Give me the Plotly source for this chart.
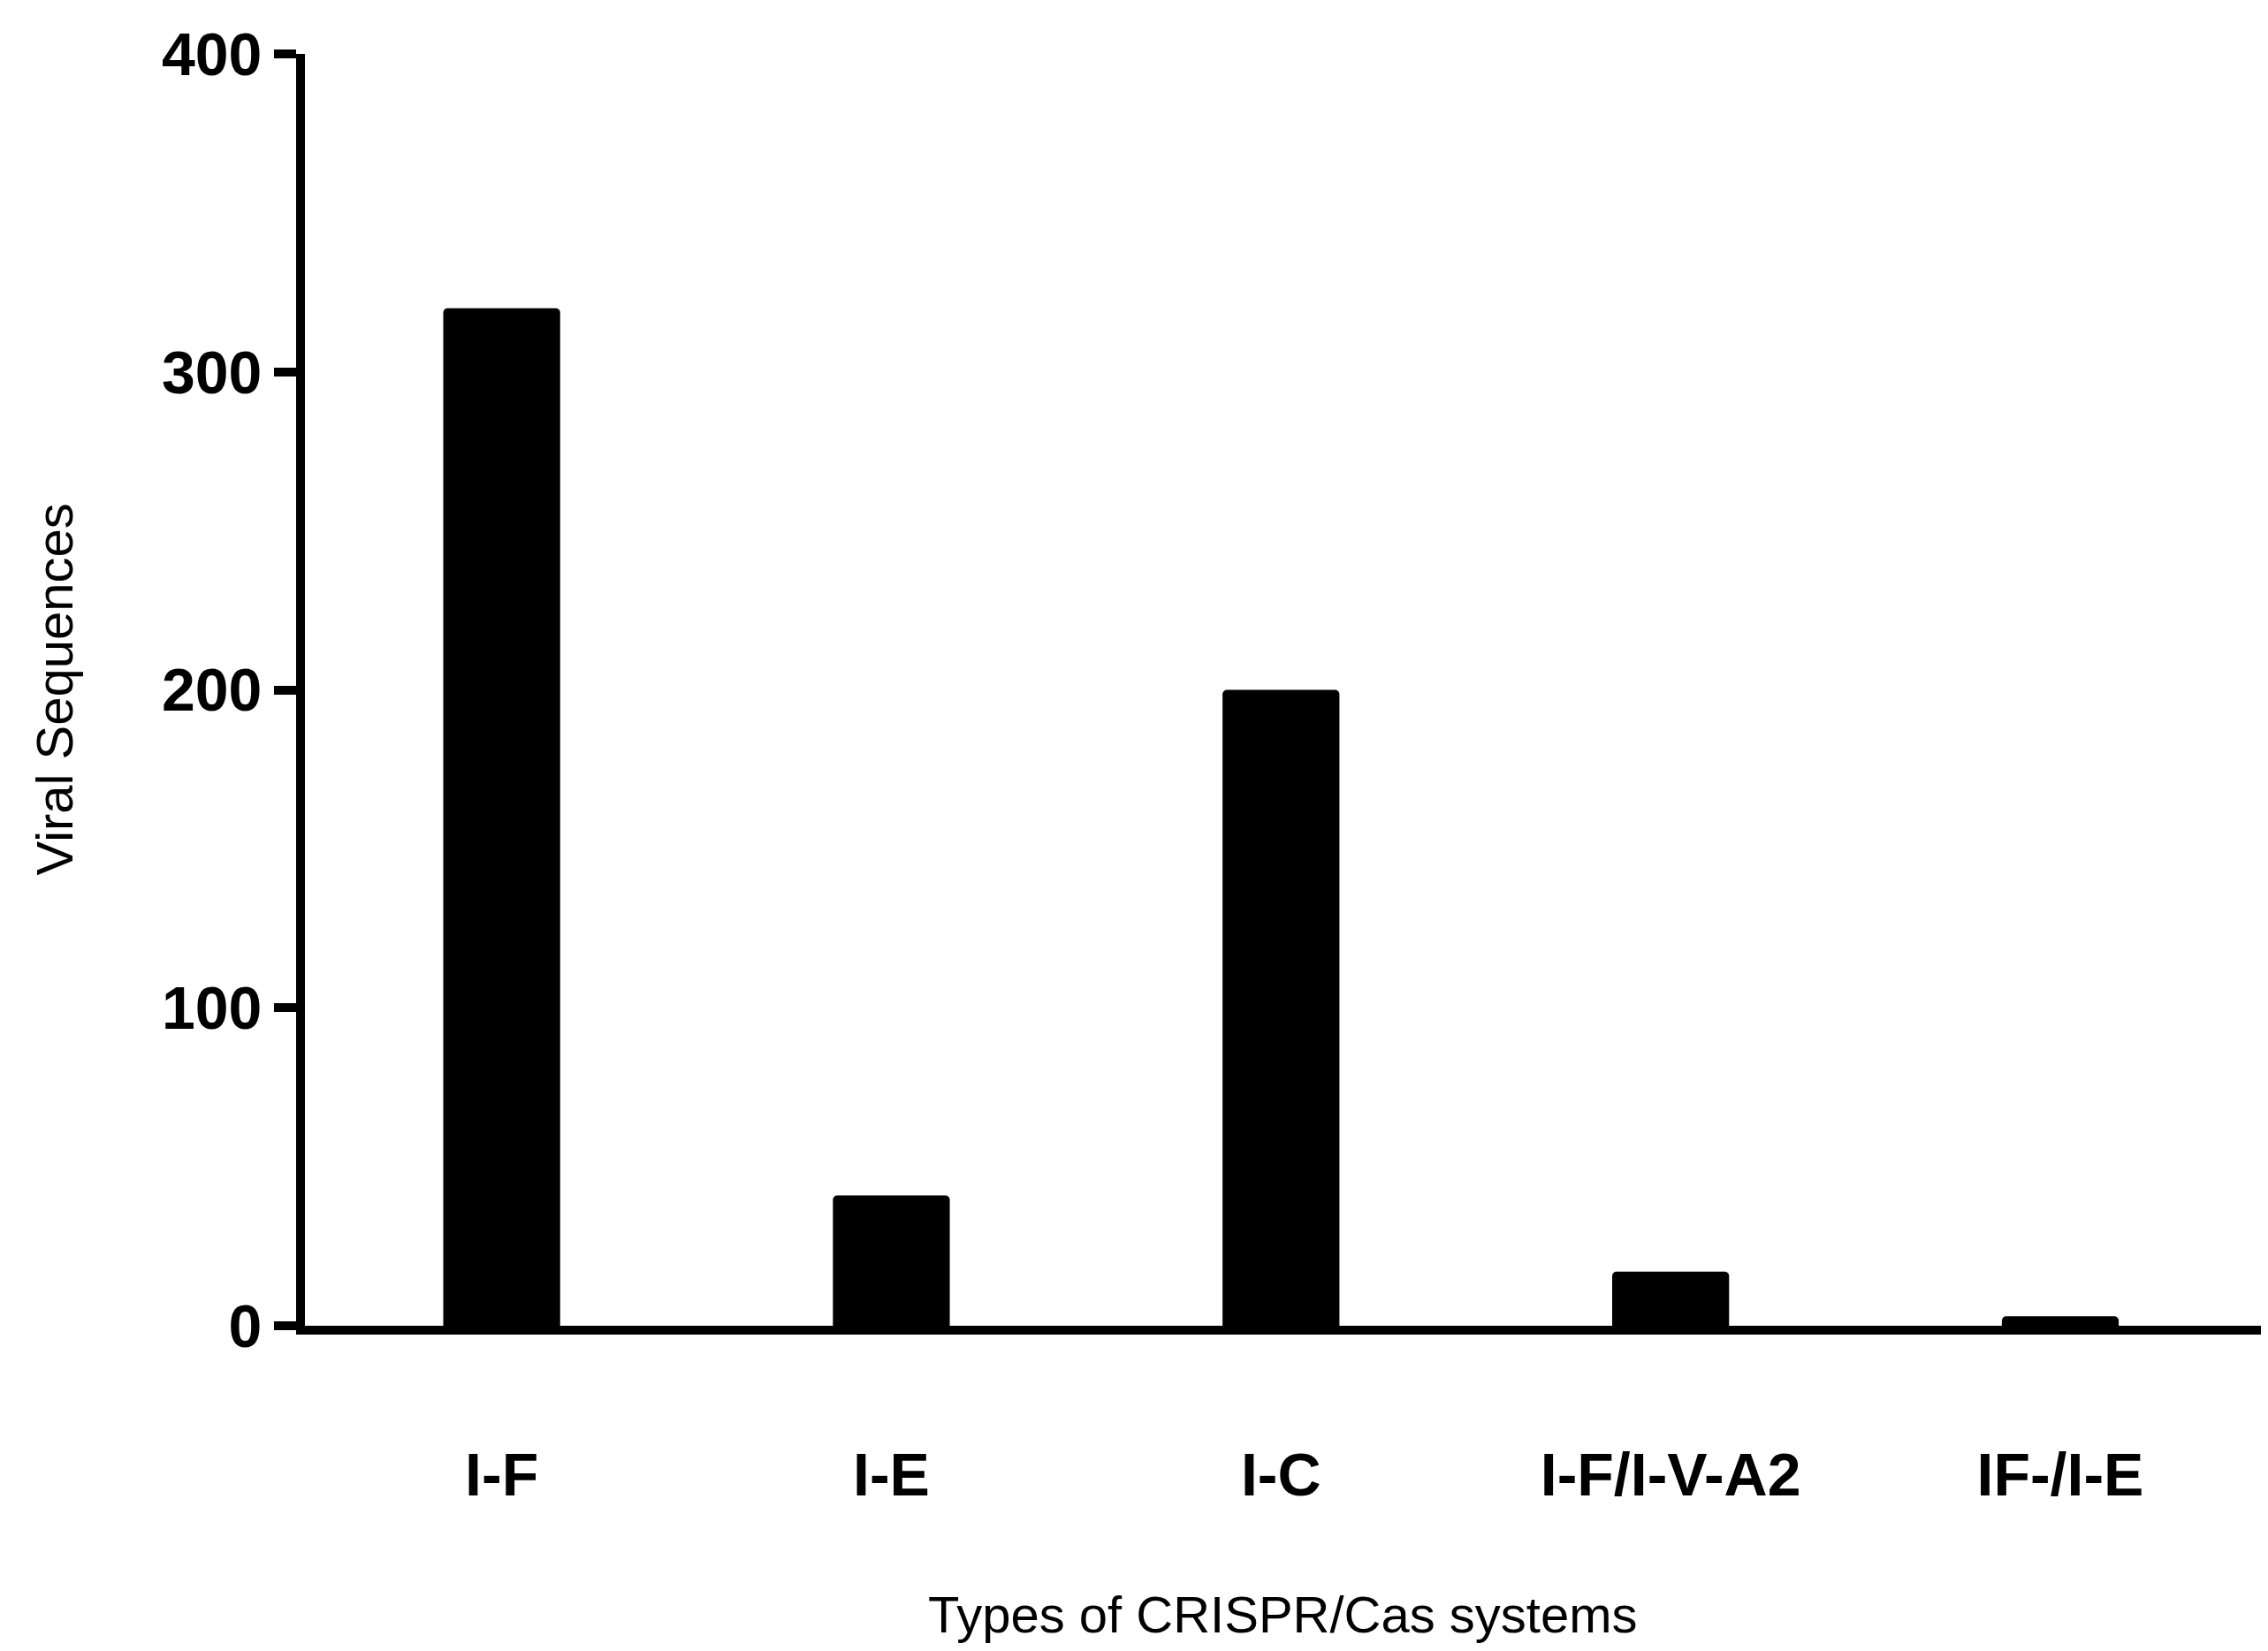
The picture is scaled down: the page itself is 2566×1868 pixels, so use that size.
import plotly.graph_objects as go

# data
systems = ["I-F", "I-E", "I-C", "I-F/I-V-A2", "IF-/I-E"]
sequences = [320, 41, 200, 17, 3]
y_ticks = [0, 100, 200, 300, 400]

fig = go.Figure(go.Bar(x=list(range(len(systems))), y=sequences, width=0.3,
                       marker=dict(color="black", line=dict(width=0), cornerradius=5)))

fig.update_layout(
    width=2566, height=1868, plot_bgcolor="white", paper_bgcolor="white",
    margin=dict(l=337, r=16, t=53, b=376), showlegend=False,
    font=dict(family="Liberation Sans, Arial", color="black"),
)
fig.update_xaxes(range=[-0.505, 4.515], tickvals=list(range(len(systems))), ticktext=systems,
                 showline=True, linecolor="black", linewidth=10, ticks="",
                 tickfont=dict(size=68, family="Liberation Sans, Arial Black", weight="bold"),
                 ticklabelstandoff=100, showgrid=False, zeroline=False)
fig.update_yaxes(range=[0, 400], tickvals=y_ticks, showline=True, linecolor="black", linewidth=10,
                 ticks="outside", ticklen=25, tickwidth=10, tickcolor="black",
                 tickfont=dict(size=68, weight="bold"), showgrid=False, zeroline=False)

fig.add_annotation(text="Types of CRISPR/Cas systems", x=0.5, y=1818, xref="paper", yref="paper",
                   showarrow=False, font=dict(size=58))
fig.update_annotations(y=-(1818 - 1492) / (1492 - 53), yanchor="middle")
fig.add_annotation(text="Viral Sequences", textangle=-90, x=-(337 - 53) / (2550 - 337), y=0.5,
                   xref="paper", yref="paper", showarrow=False, xanchor="center",
                   font=dict(size=58))

fig.write_html("out.html")
